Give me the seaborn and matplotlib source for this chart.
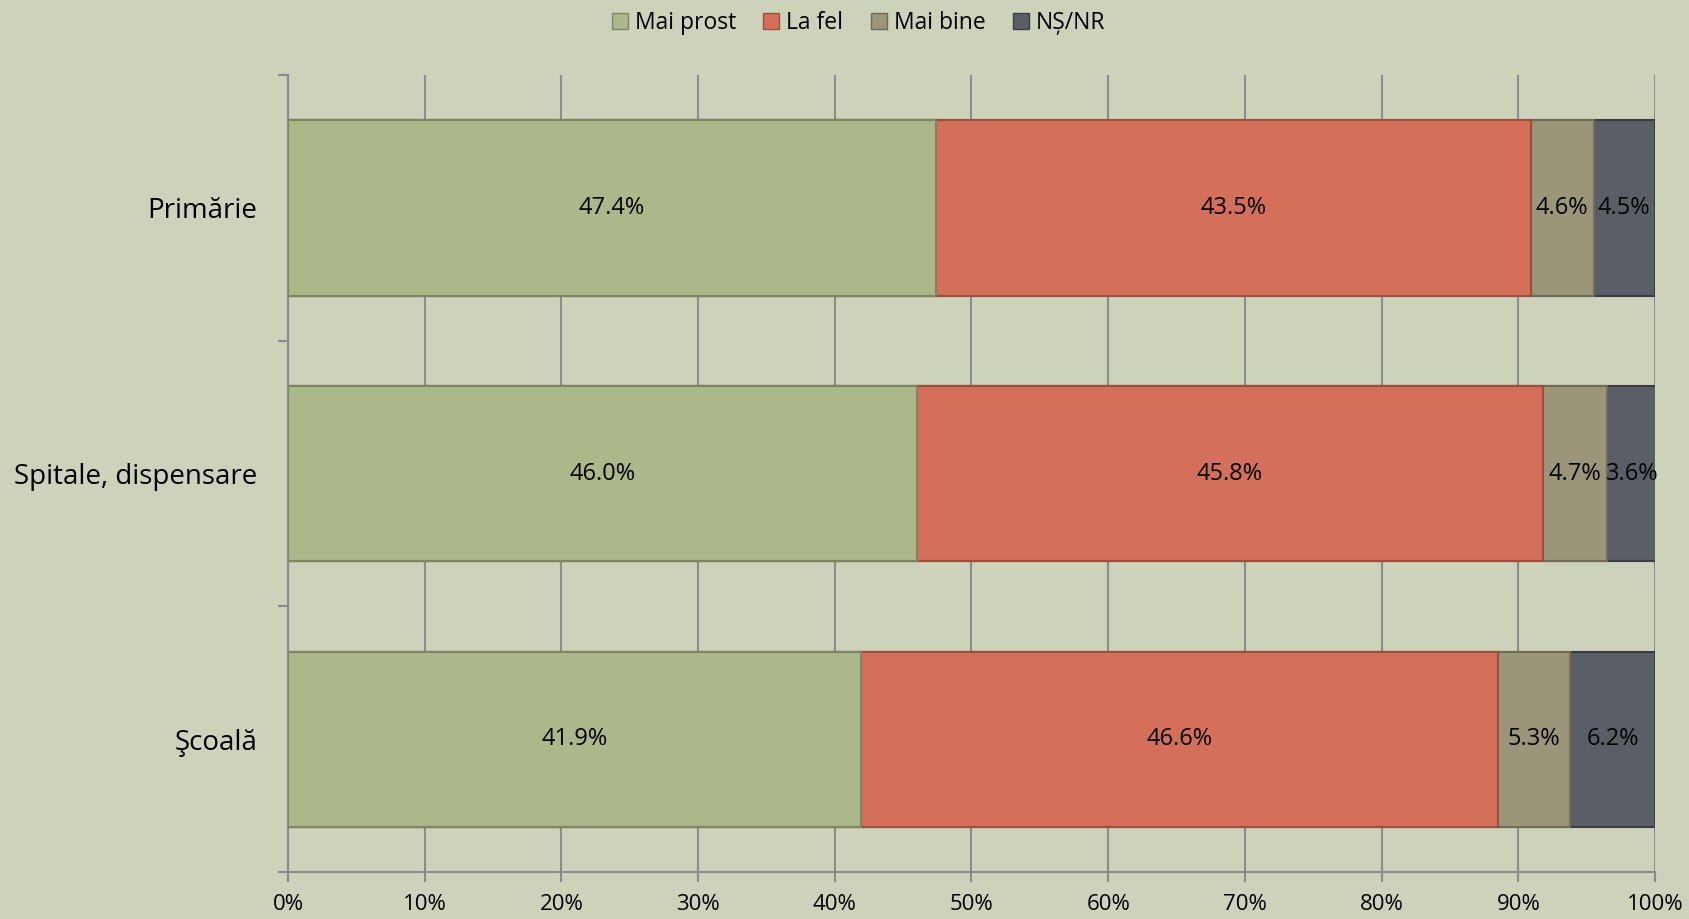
import numpy as np
import pandas as pd
import matplotlib
matplotlib.use("Agg")
import matplotlib.pyplot as plt
import seaborn as sns
from matplotlib.patches import Patch
from matplotlib.ticker import FixedLocator, PercentFormatter

# Data
categories = ["Primărie", "Spitale, dispensare", "Şcoală"]
series = ["Mai prost", "La fel", "Mai bine", "NȘ/NR"]
mai_prost = [47.4, 46.0, 41.9]
la_fel = [43.5, 45.8, 46.6]
mai_bine = [4.6, 4.7, 5.3]
ns_nr = [4.5, 3.6, 6.2]

colors = ["#ACB78A", "#D4705A", "#9B9679", "#5A5F67"]
edges = ["#7E8763", "#9E4E3D", "#706C55", "#3A3E44"]
bg = "#CDD2BB"

sns.set_style("white")
plt.rcParams["font.family"] = ["Open Sans", "DejaVu Sans"]
plt.rcParams["text.color"] = "black"

df = pd.DataFrame({"cat": categories, "Mai prost": mai_prost, "La fel": la_fel,
                   "Mai bine": mai_bine, "NȘ/NR": ns_nr})
cum = df[series].cumsum(axis=1)

fig = plt.figure(figsize=(16.9, 9.19), dpi=100, facecolor=bg)
ax = fig.add_axes([0.1704, 0.0511, 0.8089, 0.8673])
ax.set_facecolor(bg)

# stacked bars: draw cumulative totals from the largest down
for s, c, e in reversed(list(zip(series, colors, edges))):
    sns.barplot(x=cum[s], y=df["cat"], orient="h", color=c, width=0.66,
                saturation=1, edgecolor=e, linewidth=1.5, ax=ax, zorder=3)

# segment labels
for i, cat in enumerate(categories):
    left = 0
    for s in series:
        v = df.loc[i, s]
        ax.text(left + v / 2, i, f"{v:.1f}%", ha="center", va="center",
                fontsize=17, color="black", zorder=5)
        left += v

ax.set_xlim(0, 100)
ax.set_ylim(2.5, -0.5)
ax.xaxis.set_major_locator(FixedLocator(np.arange(0, 101, 10)))
ax.xaxis.set_major_formatter(PercentFormatter(decimals=0))
ax.grid(axis="x", color="#8C8C8C", linewidth=1.5, zorder=0)
ax.set_axisbelow(True)
ax.set_xlabel("")
ax.set_ylabel("")

ax.yaxis.set_minor_locator(FixedLocator([-0.5, 0.5, 1.5, 2.5]))
ax.tick_params(axis="y", which="major", length=0, pad=22, labelsize=20,
               labelcolor="black")
ax.tick_params(axis="y", which="minor", left=True, length=7, width=1.5,
               color="#8C8C8C")
ax.tick_params(axis="x", which="major", bottom=True, length=7, width=1.5,
               color="#8C8C8C", labelsize=16, labelcolor="black", pad=9)

for side in ["top", "right"]:
    ax.spines[side].set_visible(False)
for side in ["left", "bottom"]:
    ax.spines[side].set_color("#8C8C8C")
    ax.spines[side].set_linewidth(1.5)

handles = [Patch(facecolor=c, edgecolor=e, label=s) for s, c, e in zip(series, colors, edges)]
fig.legend(handles=handles, loc="center", bbox_to_anchor=(0.508, 0.975), ncol=4,
           frameon=False, fontsize=16.5, handlelength=0.7, handleheight=0.7,
           handletextpad=0.3, columnspacing=1.2)

fig.savefig("out.png", dpi=100, facecolor=bg)
